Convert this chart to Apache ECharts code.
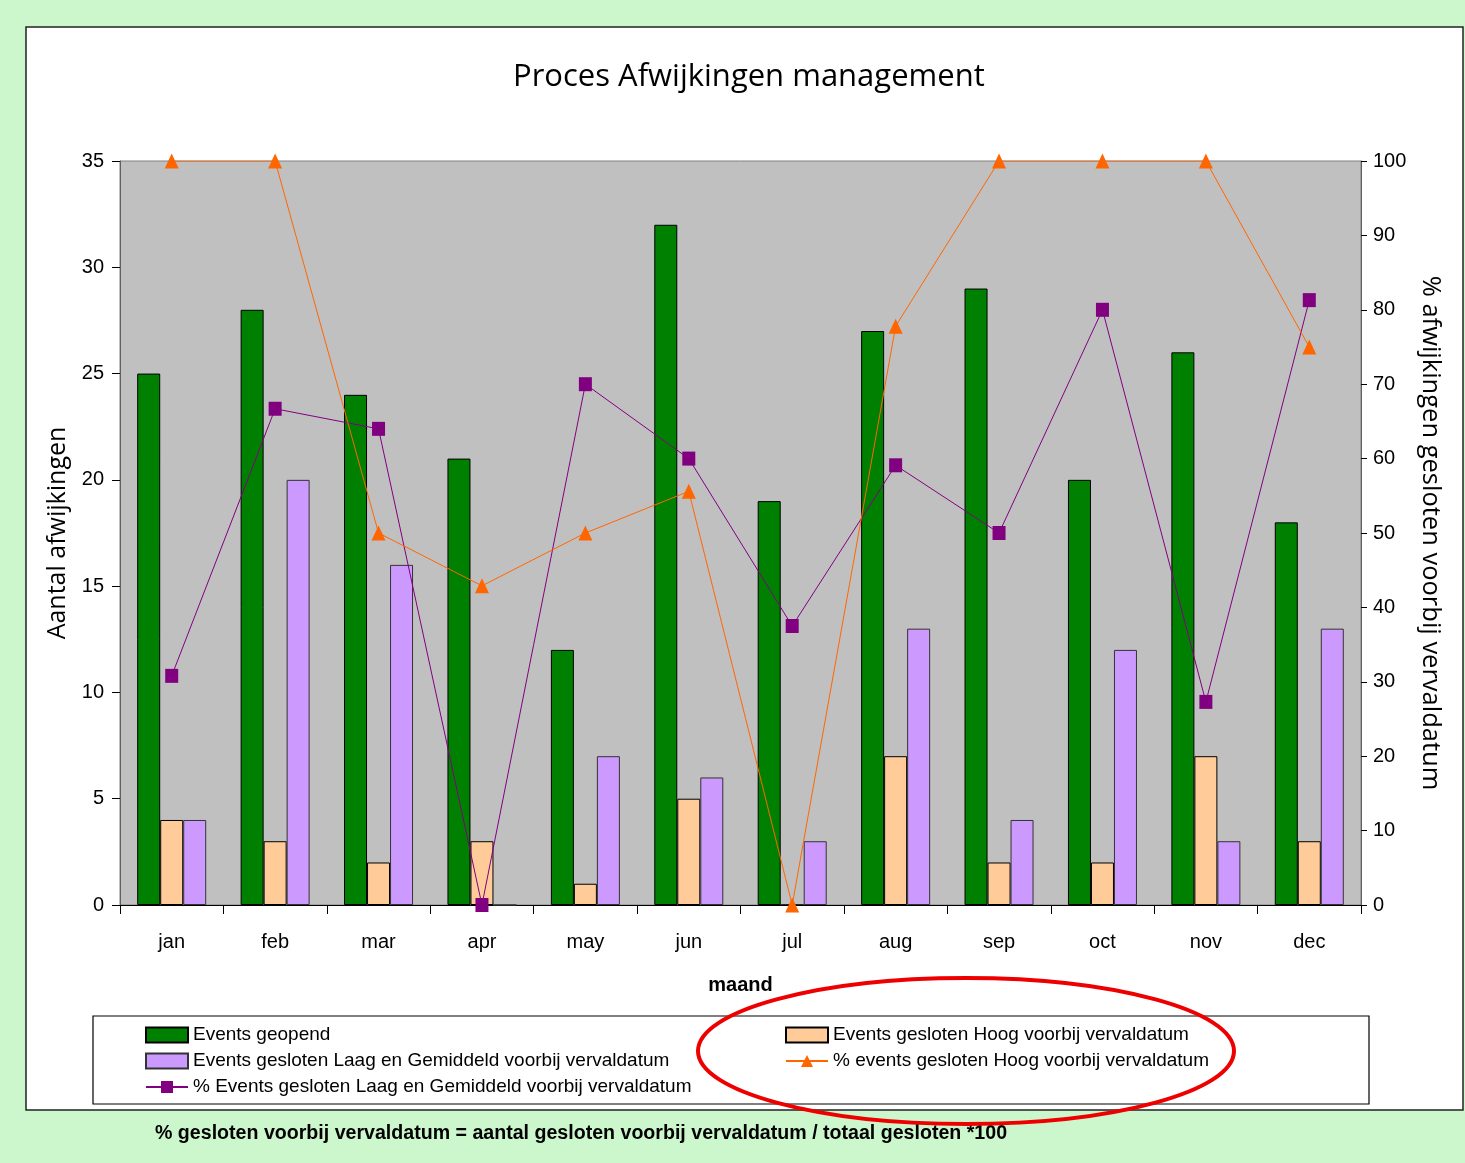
<!DOCTYPE html>
<html><head><meta charset="utf-8">
<script src="https://cdn.jsdelivr.net/npm/echarts@6/dist/echarts.min.js"></script>
<style>html,body{margin:0;padding:0;background:#fff}#c{width:1465px;height:1163px}</style>
</head><body><div id="c"></div>
<script>
const months = ['jan','feb','mar','apr','may','jun','jul','aug','sep','oct','nov','dec'];
const eventsGeopend = [25,28,24,21,12,32,19,27,29,20,26,18];
const geslotenHoog = [4,3,2,3,1,5,0,7,2,2,7,3];
const geslotenLaag = [4,20,16,0,7,6,3,13,4,12,3,13];
const pctLaag = [30.8,66.7,64,0,70,60,37.5,59.1,50,80,27.3,81.3];
const pctHoog = [100,100,50,42.9,50,55.6,0,77.8,100,100,100,75];
const leftTicks = [0,5,10,15,20,25,30,35];
const rightTicks = [0,10,20,30,40,50,60,70,80,90,100];

const NAMES = {
  geopend: 'Events geopend',
  laag: 'Events gesloten Laag en Gemiddeld voorbij vervaldatum',
  pctLaag: '% Events gesloten Laag en Gemiddeld voorbij vervaldatum',
  hoog: 'Events gesloten Hoog voorbij vervaldatum',
  pctHoog: '% events gesloten Hoog voorbij vervaldatum'
};
const narrow = "'Liberation Sans Narrow','Arial Narrow','Liberation Sans',Arial,sans-serif";
const chart = echarts.init(document.getElementById('c'), null, {renderer:'canvas'});
const legendText = {fontFamily: narrow, fontSize: 19, color:'#000', lineHeight: 20};
chart.setOption({
  backgroundColor: '#ccf7cc',
  animation: false,
  title: {
    text: 'Proces Afwijkingen management',
    left: 508, top: 57,
    textStyle: {fontFamily: "'Open Sans',sans-serif", fontSize: 31, fontWeight: 'normal', color: '#000'}
  },
  graphic: [
    {type:'rect', z:-100, silent:true, shape:{x:7,y:7,width:1458,height:1156}, style:{fill:'#ccf7cc'}},
    {type:'rect', z:-90, silent:true, shape:{x:26,y:27,width:1437,height:1083}, style:{fill:'#fff', stroke:'#222', lineWidth:1.5}},
    {type:'rect', z:-80, silent:true, shape:{x:93,y:1016,width:1276,height:88}, style:{fill:'#fff', stroke:'#000', lineWidth:1.2}},
    {type:'text', z:50, left:155, top:1124, style:{text:'% gesloten voorbij vervaldatum = aantal gesloten voorbij vervaldatum / totaal gesloten *100', fontFamily: narrow, fontSize: 19.6, fontWeight:'bold', fill:'#000'}},
    {type:'ellipse', z:60, silent:true, shape:{cx:966, cy:1051, rx:268, ry:73}, style:{fill:'none', stroke:'#ee0000', lineWidth:4}}
  ],
  legend: [
    {orient:'vertical', left:140, top:1020, itemWidth:42, itemHeight:15, itemGap:6, textStyle: legendText,
     data:[{name:NAMES.geopend, icon:'rect'}, {name:NAMES.laag, icon:'rect'}, NAMES.pctLaag]},
    {orient:'vertical', left:780, top:1020, itemWidth:42, itemHeight:15, itemGap:6, textStyle: legendText,
     data:[{name:NAMES.hoog, icon:'rect'}, NAMES.pctHoog]}
  ],
  grid: {left:120, right:104, top:161, bottom:258, show:true, backgroundColor:'#c0c0c0', borderColor:'#808080', borderWidth:1},
  xAxis: {
    type:'category', data: months, boundaryGap:true,
    name:'maand', nameLocation:'middle', nameGap:70,
    nameTextStyle:{fontFamily:narrow, fontSize:20, fontWeight:'bold', color:'#000'},
    axisLine:{lineStyle:{color:'#000', width:1}},
    axisTick:{show:true, length:9, lineStyle:{color:'#000'}},
    axisLabel:{fontFamily:narrow, fontSize:20, color:'#000', margin:27},
    splitLine:{show:false}
  },
  yAxis: [
    {type:'value', min:0, max:35, interval:5, position:'left',
     name:'Aantal afwijkingen', nameLocation:'middle', nameGap:50, nameRotate:90,
     nameTextStyle:{fontFamily:"'Open Sans',sans-serif", fontSize:25, color:'#000'},
     axisLine:{show:true, lineStyle:{color:'#606060'}},
     axisTick:{show:true, length:8, lineStyle:{color:'#000'}},
     axisLabel:{fontFamily:narrow, fontSize:20, color:'#000', margin:16,
       formatter: v => leftTicks.includes(v) ? String(v) : ''},
     splitLine:{show:false}},
    {type:'value', min:0, max:100, interval:10, position:'right',
     name:'% afwijkingen gesloten voorbij vervaldatum', nameLocation:'middle', nameGap:50, nameRotate:-90,
     nameTextStyle:{fontFamily:"'Open Sans',sans-serif", fontSize:25.5, color:'#000'},
     axisLine:{show:true, lineStyle:{color:'#606060'}},
     axisTick:{show:true, length:6, lineStyle:{color:'#000'}},
     axisLabel:{fontFamily:narrow, fontSize:20, color:'#000', margin:12,
       formatter: v => rightTicks.includes(v) ? String(v) : ''},
     splitLine:{show:false}}
  ],
  series: [
    {name:NAMES.geopend, type:'bar', yAxisIndex:0, data:eventsGeopend, barWidth:23, barGap:'0%',
     itemStyle:{color:'#008000', borderColor:'#000', borderWidth:1}},
    {name:NAMES.hoog, type:'bar', yAxisIndex:0, data:geslotenHoog, barWidth:23, barGap:'0%',
     itemStyle:{color:'#ffcc99', borderColor:'#000', borderWidth:1}},
    {name:NAMES.laag, type:'bar', yAxisIndex:0, data:geslotenLaag, barWidth:23, barGap:'0%',
     itemStyle:{color:'#cc99ff', borderColor:'#333', borderWidth:1}},
    {name:NAMES.pctLaag, type:'line', yAxisIndex:1, data:pctLaag, z:5,
     symbol:'rect', symbolSize:[13,14], showAllSymbol:true,
     lineStyle:{color:'#800080', width:1}, itemStyle:{color:'#800080'}},
    {name:NAMES.pctHoog, type:'line', yAxisIndex:1, data:pctHoog, z:6,
     symbol:'triangle', symbolSize:[14,15], showAllSymbol:true,
     lineStyle:{color:'#ff6600', width:1}, itemStyle:{color:'#ff6600'}}
  ]
});
</script></body></html>
